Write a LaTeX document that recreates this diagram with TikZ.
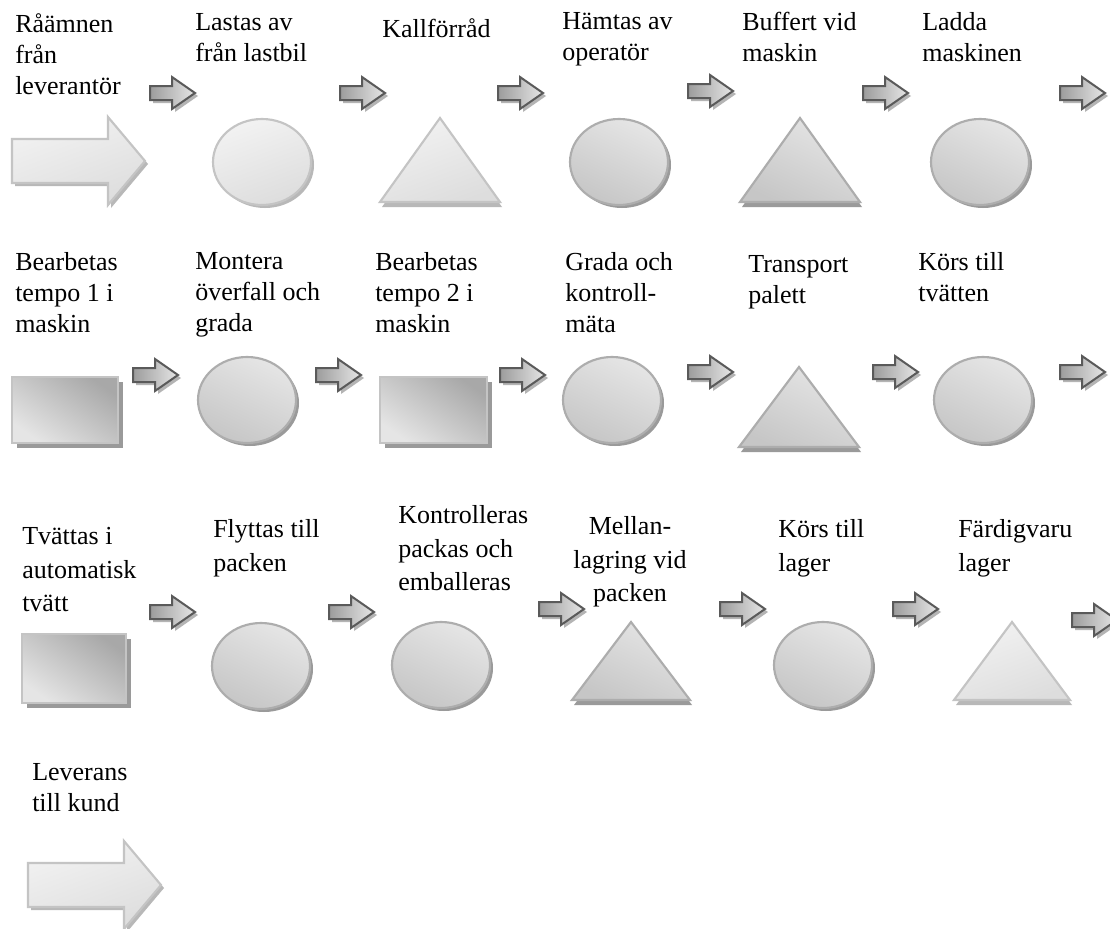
\documentclass[tikz,border=0pt]{standalone}
\usepackage{fontspec}
\setmainfont{Liberation Serif}
\definecolor{lineA}{HTML}{C4C4C4}
\definecolor{lineB}{HTML}{ADADAD}
\definecolor{shadA}{HTML}{B8B8B8}
\definecolor{shadB}{HTML}{9A9A9A}
\definecolor{fillL}{HTML}{F2F2F2}
\definecolor{fillM}{HTML}{DDDDDD}
\definecolor{fillD}{HTML}{C6C6C6}
\definecolor{arrLine}{HTML}{5A5A5A}
\definecolor{arrShad}{HTML}{B4B4B4}
\definecolor{arrDark}{HTML}{9C9C9C}
\definecolor{arrLight}{HTML}{E6E6E6}
\tikzset{
  lbl/.style={anchor=north west, inner sep=0pt, align=left,
    font=\fontsize{19.5}{23.25}\selectfont, execute at begin node=\strut},
  lblw/.style={lbl, font=\fontsize{19.5}{25.1}\selectfont},
  shadowA/.style={fill=shadA},
  shadowB/.style={fill=shadB},
  lightshape/.style={draw=lineA, line width=1.6pt, top color=fillL, bottom color=fillM, shading angle=20},
  darkshape/.style={draw=lineB, line width=1.6pt, top color=fillM!60!fillL, bottom color=fillD, shading angle=-25},
  rectshape/.style={draw=lineA, line width=1.6pt, left color=fillD!85!black, right color=fillM!60!fillL, shading angle=-35},
  smallarr/.style={draw=arrLine, line width=1.5pt, left color=arrDark, right color=arrLight},
}
\newcommand\BigArr[2]{%
  \begin{scope}[shift={(#1,#2)}]
    \fill[shadowA] (3,-19) -- (99,-19) -- (99,-41) -- (136,3) -- (99,47) -- (99,25) -- (3,25) -- cycle;
    \path[lightshape] (0,-22) -- (96,-22) -- (96,-44) -- (133,0) -- (96,44) -- (96,22) -- (0,22) -- cycle;
  \end{scope}}
\newcommand\SmArr[2]{%
  \begin{scope}[shift={(#1,#2)}]
    \fill[arrShad] (3,-4) -- (25,-4) -- (25,-13) -- (48,3) -- (25,19) -- (25,10) -- (3,10) -- cycle;
    \path[smallarr] (0,-7) -- (22,-7) -- (22,-16) -- (45,0) -- (22,16) -- (22,7) -- (0,7) -- cycle;
  \end{scope}}
\newcommand\LEll[2]{%
  \fill[shadowA] (#1+3,#2+3) ellipse [x radius=49, y radius=43];
  \path[lightshape] (#1,#2) ellipse [x radius=49, y radius=43];}
\newcommand\DEll[2]{%
  \fill[shadowB] (#1+3,#2+3) ellipse [x radius=49, y radius=43];
  \path[darkshape] (#1,#2) ellipse [x radius=49, y radius=43];}
\newcommand\LTri[4]{% apex x, apex y, half base, base y
  \fill[shadowA] (#1+2,#2+4) -- (#1+#3+2,#4+5) -- (#1-#3+2,#4+5) -- cycle;
  \path[lightshape] (#1,#2) -- (#1+#3,#4) -- (#1-#3,#4) -- cycle;}
\newcommand\DTri[4]{%
  \fill[shadowB] (#1+2,#2+4) -- (#1+#3+2,#4+5) -- (#1-#3+2,#4+5) -- cycle;
  \path[darkshape] (#1,#2) -- (#1+#3,#4) -- (#1-#3,#4) -- cycle;}
\newcommand\RBox[4]{%
  \fill[shadowB] (#1+5,#2+5) rectangle (#3+5,#4+5);
  \path[rectshape] (#1,#2) rectangle (#3,#4);}
\begin{document}
\begin{tikzpicture}[x=0.75pt,y=-0.75pt]
\useasboundingbox[fill=white] (0,0) rectangle (1110,928);

% ---------- labels ----------
\node[lbl] (l1) at (15,35-21.7) {Råämnen\\från\\leverantör};
\node[lbl] (l2) at (195,35-21.7) {Lastas av\\från lastbil};
\node[lbl] (l3) at (382,37-21.7) {Kallförråd};
\node[lbl] (l4) at (562,34-21.7) {Hämtas av\\operatör};
\node[lbl] (l5) at (742,34-21.7) {Buffert vid\\maskin};
\node[lbl] (l6) at (922,34-21.7) {Ladda\\maskinen};

\node[lbl] (l7) at (15,274-21.7) {Bearbetas\\tempo 1 i\\maskin};
\node[lbl] (l8) at (195,274-21.7) {Montera\\överfall och\\grada};
\node[lbl] (l9) at (375,274-21.7) {Bearbetas\\tempo 2 i\\maskin};
\node[lbl] (l10) at (565,274-21.7) {Grada och\\kontroll-\\mäta};
\node[lbl] (l11) at (748,277-21.7) {Transport\\palett};
\node[lbl] (l12) at (918,274-21.7) {Körs till\\tvätten};

\node[lblw] (l13) at (22,549-21.7) {Tvättas i\\automatisk\\tvätt};
\node[lblw] (l14) at (213,541-21.7) {Flyttas till\\packen};
\node[lblw] (l15) at (398,527-21.7) {Kontrolleras\\packas och\\emballeras};
\node[lblw, anchor=north, align=center] (l16) at (630,538-21.7) {Mellan-\\lagring vid\\packen};
\node[lblw] (l17) at (778,541-21.7) {Körs till\\lager};
\node[lblw] (l18) at (958,541-21.7) {Färdigvaru\\lager};

\node[lbl] (l19) at (32,785-21.7) {Leverans\\till kund};

% ---------- row 1 ----------
\BigArr{12}{161}
\SmArr{150}{93}
\SmArr{340}{93}
\SmArr{498}{93}
\SmArr{688}{91}
\SmArr{863}{93}
\SmArr{1060}{93}
\LEll{262}{162}
\LTri{440}{118}{60}{202}
\DEll{619}{162}
\DTri{800}{118}{60}{202}
\DEll{980}{162}

% ---------- row 2 ----------
\RBox{12}{377}{118}{443}
\SmArr{133}{375}
\DEll{247}{400}
\SmArr{316}{375}
\RBox{380}{377}{487}{443}
\SmArr{500}{375}
\DEll{612}{400}
\SmArr{688}{372}
\DTri{799}{367}{60}{447}
\SmArr{873}{372}
\DEll{983}{400}
\SmArr{1060}{372}

% ---------- row 3 ----------
\RBox{22}{634}{126}{703}
\SmArr{150}{612}
\DEll{261}{666}
\SmArr{329}{612}
\DEll{441}{665}
\SmArr{539}{609}
\DTri{631}{622}{59}{700}
\SmArr{720}{609}
\DEll{823}{665}
\SmArr{893}{609}
\LTri{1012}{622}{58}{700}
\SmArr{1072}{620}

% ---------- row 4 ----------
\BigArr{28}{885}
\end{tikzpicture}
\end{document}
